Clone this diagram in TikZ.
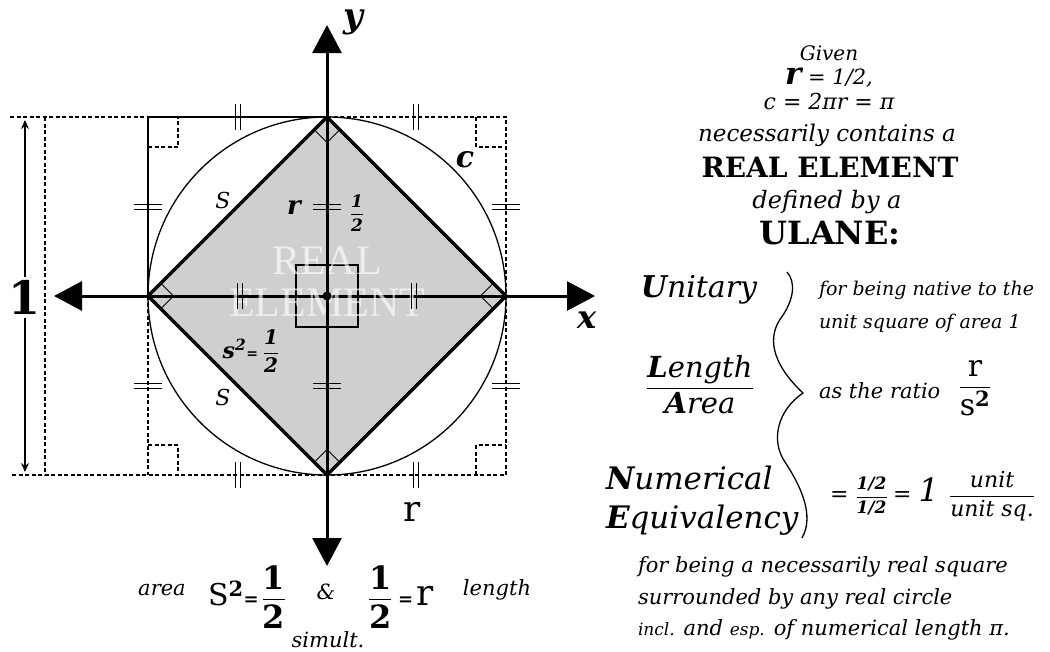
\documentclass[tikz,border=0pt]{standalone}
\usepackage{fontspec}
\usepackage{amsmath}
\setmainfont{DejaVu Serif}
\newfontfamily\wmfont{Liberation Serif}
\usetikzlibrary{arrows.meta,calc}
\newcommand\fsz[1]{\fontsize{#1}{#1}\selectfont}
\newcommand\myfrac[3][1pt]{\ensuremath{\genfrac{}{}{#1}{0}{\text{#2}}{\text{#3}}}}
\definecolor{diamondgray}{RGB}{207,207,207}
\begin{document}
\begin{tikzpicture}[x=1pt,y=-1pt,
  lbl/.style={inner sep=0pt, outer sep=0pt},
  thinline/.style={line width=1.2pt},
  dashline/.style={line width=1.2pt, dash pattern=on 4pt off 2.5pt},
  axisline/.style={line width=3pt},
  bigtip/.style={-{Triangle[length=28pt,width=29pt]}},
  tickline/.style={line width=1.1pt},
  vtk/.pic={\draw[tickline] (-2.5,-13) -- (-2.5,13) (2.5,-13) -- (2.5,13);},
  htk/.pic={\draw[tickline] (-14,-2.5) -- (14,-2.5) (-14,2.5) -- (14,2.5);},
  watermark/.style={lbl, text=white, text opacity=0.65, font=\wmfont\fsz{42}}
]
\useasboundingbox (0,0) rectangle (1050,651);
% key points
\coordinate (O) at (327,296);
\coordinate (T) at (327,117);
\coordinate (B) at (327,475);
\coordinate (L) at (148,296);
\coordinate (R) at (506,296);
\coordinate (TL) at (148,117);
\coordinate (TR) at (506,117);
\coordinate (BL) at (148,475);
\coordinate (BR) at (506,475);
\coordinate (farTL) at (10,117);
\coordinate (farBL) at (10,475);
\coordinate (dTop) at (45,117);
\coordinate (dBot) at (45,475);
\coordinate (xL) at (54,296);
\coordinate (xR) at (595,296);
\coordinate (yT) at (327,25);
\coordinate (yB) at (327,566);
% diamond fill
\fill[diamondgray] (T) -- (R) -- (B) -- (L) -- cycle;
% circle
\draw[line width=1.3pt] (O) circle[radius=179];
% box
\draw[dashline] (farTL) -- (TL);
\draw[thinline] (TL) -- (T);
\draw[dashline] (T) -- (TR) -- (BR) -- (farBL);
\draw[thinline] (TL) -- (L);
\draw[dashline] (L) -- (BL);
\draw[dashline] (dTop) -- (dBot);
% corner right angle marks
\draw[dashline] (148,147) -- (178,147) -- (178,117);
\draw[dashline] (476,117) -- (476,147) -- (506,147);
\draw[dashline] (148,445) -- (178,445) -- (178,475);
\draw[dashline] (476,475) -- (476,445) -- (506,445);
% unit arrow
\draw[line width=1.4pt, -{Stealth[length=9pt,width=8pt,inset=3pt]}] (25,277) -- (25,120);
\draw[line width=1.4pt, -{Stealth[length=9pt,width=8pt,inset=3pt]}] (25,318) -- (25,472);
\node[lbl] (one) at (25,297) {\fsz{46}\bfseries 1};
% x axis
\draw[axisline, bigtip] (O) -- (xL);
\draw[axisline, bigtip] (O) -- (xR);
% inner square
\draw[thinline] (296,265) rectangle (358,327);
% watermark
\node[watermark] (wm1) at (327,261) {REAL};
\node[watermark] (wm2) at (327,303) {ELEMENT};
% y axis
\draw[axisline, bigtip] (O) -- (yT);
\draw[axisline, bigtip] (O) -- (yB);
\fill (O) circle[radius=4.5];
% diamond border
\draw[line width=3.2pt, line join=miter] (T) -- (R) -- (B) -- (L) -- cycle;
% right angle marks at diamond vertices
\draw[line width=0.9pt] ($(T)+(-12.7,12.7)$) -- ($(T)+(0,25.4)$) -- ($(T)+(12.7,12.7)$);
\draw[line width=0.9pt] ($(B)+(-12.7,-12.7)$) -- ($(B)+(0,-25.4)$) -- ($(B)+(12.7,-12.7)$);
\draw[line width=0.9pt] ($(L)+(12.7,-12.7)$) -- ($(L)+(25.4,0)$) -- ($(L)+(12.7,12.7)$);
\draw[line width=0.9pt] ($(R)+(-12.7,-12.7)$) -- ($(R)+(-25.4,0)$) -- ($(R)+(-12.7,12.7)$);
% ticks
\pic at (238,117) {vtk}; \pic at (416,117) {vtk};
\pic at (238,475) {vtk}; \pic at (416,475) {vtk};
\pic at (240,296) {vtk}; \pic at (414,296) {vtk};
\pic at (148,207) {htk}; \pic at (148,386) {htk};
\pic at (506,207) {htk}; \pic at (506,386) {htk};
\pic at (327,207) {htk}; \pic at (327,386) {htk};
% diagram labels
\node[lbl] (ylab) at (353,22) {\fsz{34}\bfseries\itshape y};
\node[lbl] (xlab) at (587,320) {\fsz{32}\bfseries\itshape x};
\node[lbl] (clab) at (465,160) {\fsz{30}\bfseries\itshape c};
\node[lbl] (slab1) at (223,200) {\fsz{22}\itshape S};
\node[lbl] (slab2) at (223,397) {\fsz{22}\itshape S};
\node[lbl] (rlab) at (294,208) {\fsz{26}\bfseries\itshape r};
\node[lbl] (rhalf) at (357,213) {\fsz{17}\bfseries\itshape\myfrac[1pt]{1}{2}};
\node[lbl] (sqlab) at (251,351) {\fsz{22}\bfseries\itshape s\textsuperscript{2}\fsz{14}= \fsz{20}\myfrac[1pt]{1}{2}};
\node[lbl] (rbot) at (412,512) {\fsz{36}r};
% bottom formula
\node[lbl] (area) at (162,590) {\fsz{21}\itshape area};
\node[lbl, anchor=west] (sform) at (208,597) {\fsz{30}S\textsuperscript{\bfseries 2}\fsz{18}\textbf{=}\,\fsz{32}\myfrac[1.5pt]{\bfseries 1}{\bfseries 2}};
\node[lbl] (amp) at (326,592) {\fsz{21}\itshape \&};
\node[lbl, anchor=west] (rform) at (368,597) {\fsz{32}\myfrac[1.5pt]{\bfseries 1}{\bfseries 2}\,\fsz{18}\textbf{=}\,\fsz{36}r};
\node[lbl] (lenw) at (497,590) {\fsz{21}\itshape length};
\node[lbl] (simult) at (328,640) {\fsz{21}\itshape simult.};
% right text block
\node[lbl] (given) at (829,53) {\fsz{20}\itshape Given};
\node[lbl] (req) at (829,78) {\fsz{31}\bfseries\itshape r\fsz{21}\mdseries\ = 1/2,};
\node[lbl] (ceq) at (829,101) {\fsz{22}\itshape c = 2πr = π};
\node[lbl] (nec) at (827,135) {\fsz{23}\itshape necessarily contains a};
\node[lbl] (re) at (830,167) {\fsz{28}\bfseries REAL ELEMENT};
\node[lbl] (def) at (827,202) {\fsz{24}\itshape defined by a};
\node[lbl] (ulane) at (830,233) {\fsz{32}\bfseries ULANE:};
% ULANE words
\node[lbl] (unitary) at (699,290) {\fsz{30}\itshape\textbf{U}nitary};
\node[lbl] (lenarea) at (700,385) {\fsz{29}\itshape\myfrac[1.2pt]{\textbf{L}ength}{\textbf{A}rea}};
\node[lbl, anchor=west] (numer) at (606,478) {\fsz{31}\itshape\textbf{N}umerical};
\node[lbl, anchor=west] (equiv) at (606,520) {\fsz{31}\itshape\textbf{E}quivalency};
% brace
\draw[line width=1.3pt] (787,272) .. controls (796,282) and (794,300) .. (781,318)
  .. controls (768,336) and (770,362) .. (803,393)
  .. controls (778,410) and (770,440) .. (785,462)
  .. controls (800,485) and (815,515) .. (802,538);
% descriptions
\node[lbl, anchor=west] (d1) at (819,290) {\fsz{19}\itshape for being native to the};
\node[lbl, anchor=west] (d2) at (819,323) {\fsz{19}\itshape unit square of area 1};
\node[lbl, anchor=west] (d3) at (819,391) {\fsz{21}\itshape as the ratio};
\node[lbl] (d3f) at (975,388) {\fsz{30}\myfrac[1pt]{r}{s\textsuperscript{\bfseries 2}}};
\node[lbl, anchor=west] (d4) at (830,496) {\fsz{22}\itshape = \fsz{17}\myfrac[1pt]{\bfseries 1/2}{\bfseries 1/2} \fsz{22}= \fsz{32}1 \fsz{22}\myfrac[1pt]{unit}{unit sq.}};
% bottom paragraph
\node[lbl, anchor=west] (p1) at (638,567) {\fsz{21}\itshape for being a necessarily real square};
\node[lbl, anchor=west] (p2) at (638,599) {\fsz{21}\itshape surrounded by any real circle};
\node[lbl, anchor=west] (p3) at (638,630) {\fsz{21}\itshape{\fsz{17}incl.} and {\fsz{17}esp.} of numerical length π.};
\end{tikzpicture}
\end{document}
